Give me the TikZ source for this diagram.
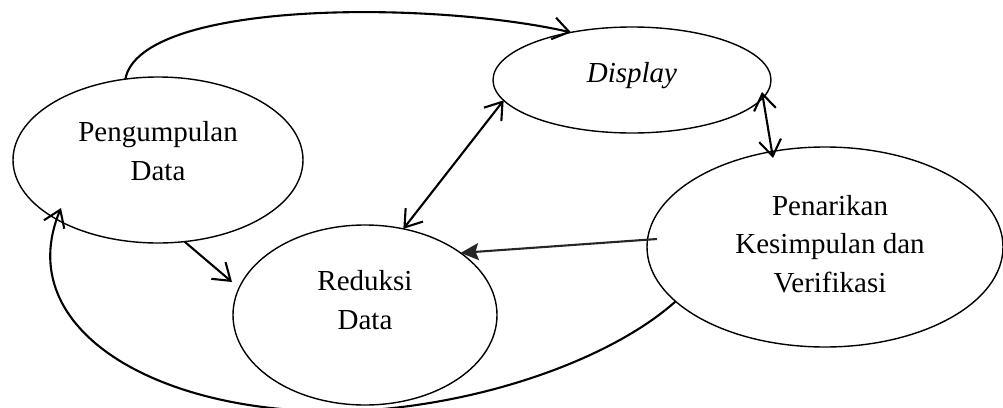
\documentclass[tikz,border=0pt]{standalone}
\usepackage{fontspec}
\setmainfont{Liberation Serif}
\usetikzlibrary{arrows.meta,shapes.geometric,calc}
\begin{document}
\begin{tikzpicture}[x=1pt,y=-1pt,
  oval/.style={ellipse,draw,line width=1.4pt,inner sep=0pt,outer sep=0pt},
  lbl/.style={align=center,font=\fontsize{29}{38.5}\selectfont,inner sep=0pt},
  conn/.style={line width=2.1pt},
  >={Straight Barb[length=16pt,width=22pt]}]
\useasboundingbox (0,0) rectangle (1003,407);
% ellipses
\node[oval,minimum width=290pt,minimum height=166pt] (peng) at (158,160) {};
\node[oval,minimum width=278pt,minimum height=106pt] (disp) at (632,80) {};
\node[oval,minimum width=356pt,minimum height=200pt] (pen) at (825,247) {};
\node[oval,minimum width=264pt,minimum height=180pt] (red) at (365,315) {};
% labels
\node[lbl] (pengtxt) at (158,151) {Pengumpulan\\Data};
\node[lbl] (disptxt) at (632,76) {\textit{Display}};
\node[lbl] (pentxt) at (830,244) {Penarikan\\Kesimpulan dan\\Verifikasi};
\node[lbl] (redtxt) at (365,300) {Reduksi\\Data};
% connectors
\draw[conn,->] (peng.112) .. controls +(15,-79) and +(-141,-32) .. (disp.142);
\draw[conn,->] (peng.-72) -- ($(red.center)+(-133,-33)$);
\draw[conn,<->] (disp.189) -- (red.66);
\draw[conn,<->] ($(disp.center)+(130,12)$) -- ($(pen.center)+(-52,-89)$);
\draw[conn,draw=black!85,-{Stealth[length=18pt,width=17pt,inset=3pt]}] ($(pen.center)+(-168,-8)$) -- (red.33);
\draw[conn,->] (pen.200) .. controls +(-65.6,58.6) and +(125,-6) .. ($(red.center)+(-10,96)$)
  .. controls +(-195,7) and +(-51,122) .. ($(peng.center)+(-97,48)$);
\end{tikzpicture}
\end{document}
